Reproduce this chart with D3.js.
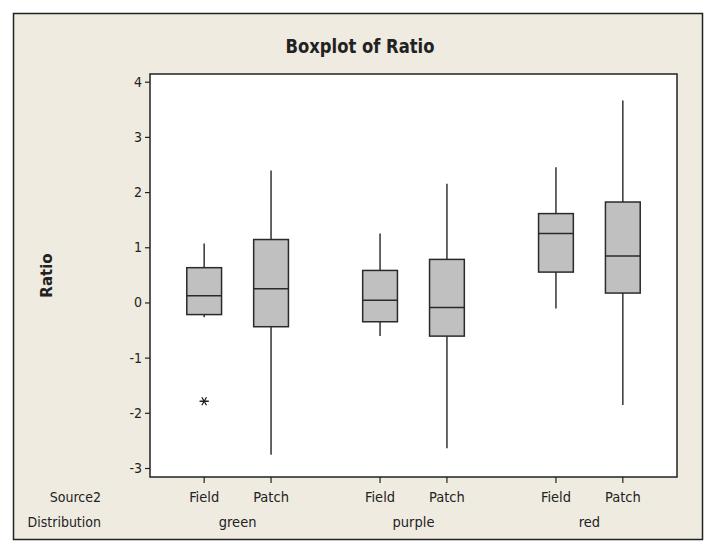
<!DOCTYPE html>
<html>
<head>
<meta charset="utf-8">
<script src="https://cdn.jsdelivr.net/npm/d3@7"></script>
<style>
  body { margin: 0; background: #fff; }
  text { fill: #222; }
</style>
</head>
<body>
<div id="chart"></div>
<script>
// data
const distributions = ["green", "purple", "red"];
const sources = ["Field", "Patch"];
// [low whisker, Q1, median, Q3, high whisker] per distribution x source
const lowWhisker = [-0.27, -2.76, -0.61, -2.64, -0.11, -1.86];
const q1 = [-0.22, -0.44, -0.35, -0.61, 0.55, 0.17];
const medians = [0.12, 0.25, 0.04, -0.09, 1.25, 0.84];
const q3 = [0.63, 1.14, 0.58, 0.78, 1.61, 1.82];
const highWhisker = [1.07, 2.39, 1.25, 2.15, 2.45, 3.66];
const outliers = [{ box: 0, value: -1.79 }];
const yTicks = [-3, -2, -1, 0, 1, 2, 3, 4];

const WIDTH = 713;
const HEIGHT = 549;
const GROUP_STEP = 2.63; // position units between groups (1 unit = gap between Field and Patch)

const plot = { left: 150, right: 677, top: 74, bottom: 477 };

const svg = d3.select("#chart")
    .append("svg")
    .attr("width", WIDTH)
    .attr("height", HEIGHT);

// outer panel
svg.append("rect")
    .attr("x", 13.5)
    .attr("y", 13.5)
    .attr("width", 689)
    .attr("height", 526)
    .attr("fill", "#efebe1")
    .attr("stroke", "#222")
    .attr("stroke-width", 1.5);

// build box records
const boxes = [];
distributions.forEach((dist, gi) => {
    sources.forEach((src, si) => {
        const i = gi * sources.length + si;
        boxes.push({
            dist, src,
            pos: gi * GROUP_STEP + si,
            lo: lowWhisker[i], q1: q1[i], med: medians[i], q3: q3[i], hi: highWhisker[i]
        });
    });
});

const lastPos = (distributions.length - 1) * GROUP_STEP + sources.length - 1;
const x = d3.scaleLinear()
    .domain([-0.81, lastPos + 0.81])
    .range([plot.left, plot.right]);

const y = d3.scaleLinear()
    .domain([-3, 4])
    .range([468, 81.7]);

const labelFont = "'DejaVu Sans Condensed', 'DejaVu Sans', sans-serif";

// plot background
svg.append("rect")
    .attr("x", plot.left)
    .attr("y", plot.top)
    .attr("width", plot.right - plot.left)
    .attr("height", plot.bottom - plot.top)
    .attr("fill", "#fff");

// y axis
const yAxis = svg.append("g")
    .attr("transform", `translate(${plot.left},0)`)
    .call(d3.axisLeft(y).tickValues(yTicks).tickSize(5).tickPadding(3).tickFormat(d => String(d)));
yAxis.select(".domain").remove();
yAxis.selectAll("line").attr("stroke", "#222").attr("stroke-width", 1.2);
yAxis.selectAll("text")
    .style("font-family", labelFont)
    .style("font-size", "14px")
    .attr("fill", "#222");

// x ticks + labels
const xg = svg.append("g");
xg.selectAll(".xtick")
    .data(boxes)
    .enter()
    .append("line")
    .attr("x1", d => x(d.pos))
    .attr("x2", d => x(d.pos))
    .attr("y1", plot.bottom)
    .attr("y2", plot.bottom + 6)
    .attr("stroke", "#222")
    .attr("stroke-width", 1.2);

xg.selectAll(".src-label")
    .data(boxes)
    .enter()
    .append("text")
    .attr("x", d => x(d.pos))
    .attr("y", 502)
    .attr("text-anchor", "middle")
    .style("font-family", labelFont)
    .style("font-size", "14.5px")
    .text(d => d.src);

xg.selectAll(".dist-label")
    .data(distributions)
    .enter()
    .append("text")
    .attr("x", (d, gi) => x(gi * GROUP_STEP + (sources.length - 1) / 2))
    .attr("y", 527)
    .attr("text-anchor", "middle")
    .style("font-family", labelFont)
    .style("font-size", "14.5px")
    .text(d => d);

// row names
svg.append("text")
    .attr("x", 101)
    .attr("y", 502)
    .attr("text-anchor", "end")
    .style("font-family", labelFont)
    .style("font-size", "14px")
    .text("Source2");

svg.append("text")
    .attr("x", 101)
    .attr("y", 527)
    .attr("text-anchor", "end")
    .style("font-family", labelFont)
    .style("font-size", "14px")
    .text("Distribution");

// boxes
const BOX_W = x(0.52) - x(0);
const g = svg.append("g");

const box = g.selectAll(".box")
    .data(boxes)
    .enter()
    .append("g")
    .attr("class", "box");

// whiskers
box.append("line")
    .attr("x1", d => x(d.pos))
    .attr("x2", d => x(d.pos))
    .attr("y1", d => y(d.hi))
    .attr("y2", d => y(d.q3))
    .attr("stroke", "#333")
    .attr("stroke-width", 1.5);

box.append("line")
    .attr("x1", d => x(d.pos))
    .attr("x2", d => x(d.pos))
    .attr("y1", d => y(d.q1))
    .attr("y2", d => y(d.lo))
    .attr("stroke", "#333")
    .attr("stroke-width", 1.5);

box.append("rect")
    .attr("x", d => x(d.pos) - BOX_W / 2)
    .attr("y", d => y(d.q3))
    .attr("width", BOX_W)
    .attr("height", d => y(d.q1) - y(d.q3))
    .attr("fill", "#c0c0c0")
    .attr("stroke", "#2a2a2a")
    .attr("stroke-width", 1.5);

box.append("line")
    .attr("x1", d => x(d.pos) - BOX_W / 2)
    .attr("x2", d => x(d.pos) + BOX_W / 2)
    .attr("y1", d => y(d.med))
    .attr("y2", d => y(d.med))
    .attr("stroke", "#2a2a2a")
    .attr("stroke-width", 1.5);

// outliers
g.selectAll(".outlier")
    .data(outliers)
    .enter()
    .append("path")
    .attr("class", "outlier")
    .attr("d", d3.symbol().type(d3.symbolAsterisk).size(60))
    .attr("transform", d => `translate(${x(boxes[d.box].pos)},${y(d.value)}) rotate(90)`)
    .attr("fill", "none")
    .attr("stroke", "#222")
    .attr("stroke-width", 1.3);

// plot frame
svg.append("rect")
    .attr("x", plot.left)
    .attr("y", plot.top)
    .attr("width", plot.right - plot.left)
    .attr("height", plot.bottom - plot.top)
    .attr("fill", "none")
    .attr("stroke", "#222")
    .attr("stroke-width", 1.5);

// title (squeezed horizontally to mimic the narrow bold face)
svg.append("g")
    .attr("transform", "translate(360,53) scale(0.82,1)")
    .append("text")
    .attr("text-anchor", "middle")
    .style("font-family", "'DejaVu Sans', sans-serif")
    .style("font-weight", "bold")
    .style("font-size", "20px")
    .text("Boxplot of Ratio");

// y label
svg.append("text")
    .attr("transform", `translate(52,${(plot.top + plot.bottom) / 2}) rotate(-90)`)
    .attr("text-anchor", "middle")
    .style("font-family", "'DejaVu Sans', sans-serif")
    .style("font-weight", "bold")
    .style("font-size", "15px")
    .text("Ratio");
</script>
</body>
</html>
